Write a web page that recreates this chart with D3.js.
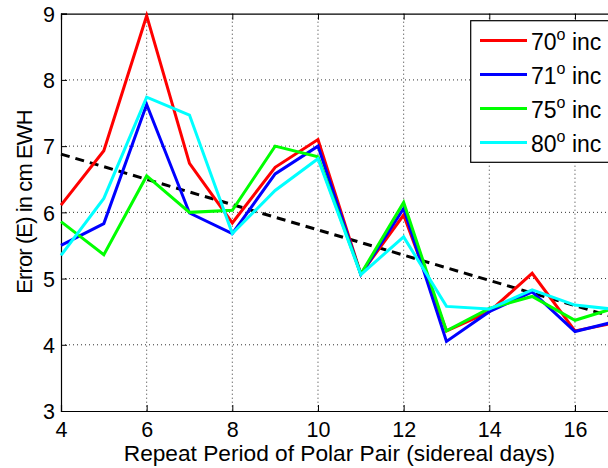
<!DOCTYPE html>
<html>
<head>
<meta charset="utf-8">
<script src="https://cdn.jsdelivr.net/npm/d3@7"></script>
<style>
  body { margin: 0; background: #fff; }
  text { font-family: "Liberation Sans", Arial, sans-serif; fill: #000; }
</style>
</head>
<body>
<div id="container"></div>
<script>
// repeat period (sidereal days)
var days = [4, 5, 6, 7, 8, 9, 10, 11, 12, 13, 14, 15, 16, 17];

var inc70 = [6.11, 6.93, 8.97, 6.74, 5.84, 6.68, 7.10, 5.07, 5.96, 4.21, 4.50, 5.08, 4.21, 4.34];
var inc71 = [5.50, 5.83, 7.63, 5.99, 5.68, 6.58, 7.00, 5.06, 6.06, 4.05, 4.50, 4.80, 4.20, 4.36];
var inc75 = [5.86, 5.36, 6.55, 6.00, 6.03, 7.00, 6.84, 5.07, 6.15, 4.21, 4.55, 4.73, 4.37, 4.57];
var inc80 = [5.35, 6.21, 7.74, 7.47, 5.68, 6.33, 6.81, 5.06, 5.63, 4.58, 4.54, 4.83, 4.60, 4.53];

// linear fit drawn dashed
var trendX = [4, 17];
var trendY = [6.88, 4.40];

var seriesNames = ['70', '71', '75', '80'];
var seriesColors = ['#ff0000', '#0000ff', '#00ff00', '#00ffff'];
var seriesData = [inc70, inc71, inc75, inc80];

var xTicks = [4, 6, 8, 10, 12, 14, 16];
var yTicks = [3, 4, 5, 6, 7, 8, 9];

var W = 608, H = 468;
var mLeft = 61, mTop = 13.7, mBottom = 411, mRight = 617.8;

var svg = d3.select('#container')
    .append('svg')
    .attr('width', W)
    .attr('height', H);

var x = d3.scaleLinear().domain([4, 17]).range([mLeft, mRight]);
var y = d3.scaleLinear().domain([3, 9]).range([mBottom, mTop]);

// grid
var grid = svg.append('g');
grid.selectAll('.vg')
    .data(xTicks.slice(1))
    .enter().append('line')
    .attr('x1', function (d) { return x(d); })
    .attr('x2', function (d) { return x(d); })
    .attr('y1', mTop)
    .attr('y2', mBottom)
    .attr('stroke', '#333')
    .attr('stroke-width', 1)
    .style('stroke-dasharray', '1,3');
grid.selectAll('.hg')
    .data(yTicks.slice(1, -1))
    .enter().append('line')
    .attr('x1', mLeft)
    .attr('x2', mRight)
    .attr('y1', function (d) { return y(d); })
    .attr('y2', function (d) { return y(d); })
    .attr('stroke', '#333')
    .attr('stroke-width', 1)
    .style('stroke-dasharray', '1,3');

// axes (inward ticks like matlab)
var fmt = d3.format('d');
var xAxis = d3.axisBottom(x).tickValues(xTicks).tickFormat(fmt).tickSize(-6).tickPadding(11);
var yAxis = d3.axisLeft(y).tickValues(yTicks).tickFormat(fmt).tickSize(-6).tickPadding(6);
var xTop = d3.axisTop(x).tickValues(xTicks).tickSize(-6).tickFormat('');

var gx = svg.append('g').attr('transform', 'translate(0,' + mBottom + ')').call(xAxis);
var gy = svg.append('g').attr('transform', 'translate(' + mLeft + ',0)').call(yAxis);
var gt = svg.append('g').attr('transform', 'translate(0,' + mTop + ')').call(xTop);

[gx, gy, gt].forEach(function (g) {
    g.select('.domain').attr('stroke', '#000').attr('stroke-width', 1.2);
    g.selectAll('.tick line').attr('stroke', '#000');
    g.selectAll('text')
        .style('font-family', '"Liberation Sans", Arial, sans-serif')
        .style('font-size', '21.5px')
        .attr('fill', '#000');
});
gx.selectAll('text').attr('dy', '0.71em');
gy.selectAll('text').attr('dy', '0.36em');

// lines
var line = d3.line()
    .x(function (d, i) { return x(days[i]); })
    .y(function (d) { return y(d); })
    .curve(d3.curveLinear);

var trendLine = d3.line()
    .x(function (d, i) { return x(trendX[i]); })
    .y(function (d) { return y(d); });

svg.append('path')
    .attr('d', trendLine(trendY))
    .attr('fill', 'none')
    .attr('stroke', '#000')
    .attr('stroke-width', 3)
    .style('stroke-dasharray', '9,6');

svg.selectAll('.series')
    .data(seriesData)
    .enter().append('path')
    .attr('class', 'series')
    .attr('d', line)
    .attr('fill', 'none')
    .attr('stroke', function (d, i) { return seriesColors[i]; })
    .attr('stroke-width', 3)
    .attr('stroke-linejoin', 'miter');

// labels
svg.append('text')
    .attr('x', (mLeft + mRight) / 2)
    .attr('y', 461)
    .attr('text-anchor', 'middle')
    .style('font-size', '22.7px')
    .text('Repeat Period of Polar Pair (sidereal days)');

svg.append('text')
    .attr('transform', 'translate(32,202) rotate(-90)')
    .attr('text-anchor', 'middle')
    .style('font-size', '22px')
    .style('letter-spacing', '-0.9px')
    .text('Error (E) in cm EWH');

// legend
var legend = svg.append('g');
legend.append('rect')
    .attr('x', 470.7)
    .attr('y', 20.7)
    .attr('width', 146)
    .attr('height', 141.6)
    .attr('fill', '#fff')
    .attr('stroke', '#000')
    .attr('stroke-width', 1.2);

var rows = legend.selectAll('.row')
    .data(seriesNames)
    .enter().append('g')
    .attr('class', 'row')
    .attr('transform', function (d, i) { return 'translate(0,' + (40.5 + i * 34) + ')'; });

rows.append('line')
    .attr('x1', 480)
    .attr('x2', 527)
    .attr('y1', 0)
    .attr('y2', 0)
    .attr('stroke', function (d, i) { return seriesColors[i]; })
    .attr('stroke-width', 3);

var lt = rows.append('text')
    .attr('x', 531)
    .attr('y', 9)
    .style('font-size', '23px');
lt.append('tspan').text(function (d) { return d; });
lt.append('tspan').attr('dy', -10).style('font-size', '16px').text('o');
lt.append('tspan').attr('dy', 10).text(' inc');
</script>
</body>
</html>
